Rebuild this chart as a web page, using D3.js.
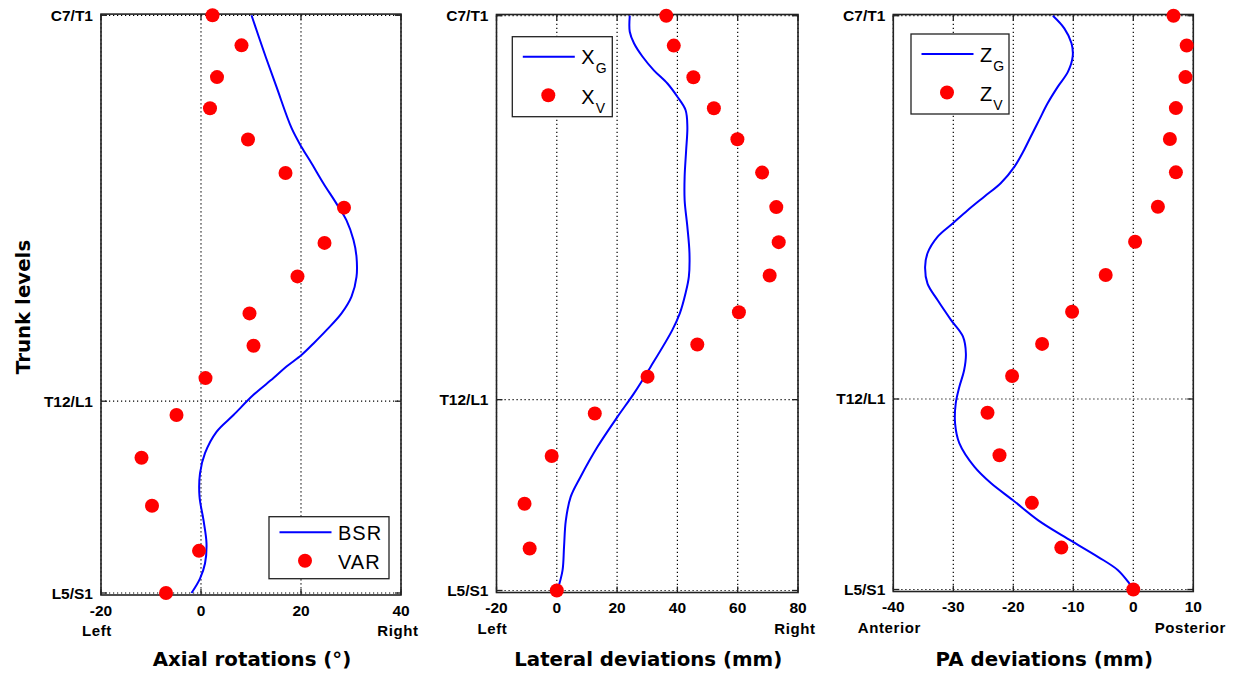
<!DOCTYPE html>
<html><head><meta charset="utf-8">
<script src="https://cdn.jsdelivr.net/npm/d3@7"></script>
<style>body{margin:0;background:#fff}svg{display:block}</style>
</head><body>
<svg id="c" width="1240" height="677"></svg>
<script>
// ---------- DATA ----------
const levelTickLabels = ["C7/T1", "T12/L1", "L5/S1"];
const levelTickHeights = [0, 66.8, 100];           // normalized trunk height (0 = C7/T1, 100 = L5/S1)
const levelHeights = [0, 5.2, 10.7, 16.1, 21.5, 27.3, 33.3, 39.4, 45.2, 51.6, 57.2, 62.8, 69.2, 76.6, 84.9, 92.7, 100];

// Panel 1 : axial rotations (deg)
const varValues = [2.3, 8.1, 3.2, 1.8, 9.4, 16.9, 28.6, 24.7, 19.3, 9.7, 10.5, 0.9, -4.9, -11.9, -9.8, -0.4, -7.0];
const bsrHeights = [0, 6.1, 12.4, 19.5, 22.8, 25.6, 29.1, 32.6, 35.5, 38.9, 41.8, 45.3, 48.7, 51.6, 54.5, 56.8, 58.8, 60.8, 62.8, 65.7, 69.2, 72.1, 75.8, 79.3, 83.3, 87.4, 91.4, 94.9, 97.5, 100];
const bsrValues = [10.1, 12.5, 15.1, 18.1, 20.1, 22.1, 24.5, 27.1, 29.1, 30.5, 31.1, 31.1, 30.1, 28.1, 25.1, 22.5, 20.1, 17.1, 14.5, 10.5, 6.5, 3.1, 0.8, -0.2, -0.3, 0.5, 1.1, 0.8, -0.2, -1.9];
const axialTicks = [-20, 0, 20, 40];

// Panel 2 : lateral deviations (mm)
const xvValues = [36.3, 38.8, 45.3, 52.1, 59.9, 68.1, 72.8, 73.6, 70.6, 60.4, 46.6, 30.1, 12.6, -1.7, -10.7, -9.0, 0];
const xgHeights = [0, 2.8, 4.8, 7.1, 9.5, 11.8, 14.1, 16.4, 19.3, 23.4, 28.0, 32.1, 36.7, 41.3, 45.4, 48.3, 51.8, 54.7, 61.1, 65.7, 69.8, 75.0, 80.2, 83.7, 87.8, 92.4, 96.5, 100];
const xgValues = [24.2, 24.2, 25.6, 28.4, 32.2, 36.7, 40.0, 42.7, 43.3, 42.9, 42.4, 42.4, 43.3, 44.0, 43.8, 42.7, 40.8, 38.3, 31.1, 25.6, 20.1, 13.5, 7.9, 4.6, 3.0, 2.4, 1.9, 0.2];
const lateralTicks = [-20, 0, 20, 40, 60, 80];

// Panel 3 : PA deviations (mm)
const zvValues = [6.7, 8.9, 8.7, 7.1, 6.1, 7.1, 4.1, 0.3, -4.6, -10.2, -15.2, -20.2, -24.3, -22.3, -16.9, -12.0, 0];
const zgHeights = [0, 2.2, 4.8, 7.1, 9.8, 12.4, 15.3, 18.2, 21.1, 23.4, 26.3, 29.2, 31.5, 33.9, 36.2, 38.5, 41.4, 43.8, 46.7, 49.6, 53.0, 55.9, 58.9, 61.8, 64.7, 67.6, 71.1, 74.5, 78.6, 81.5, 84.4, 87.9, 90.8, 94.3, 96.6, 98.9, 100];
const zgValues = [-13.4, -11.5, -10.3, -10.1, -10.9, -12.6, -14.3, -15.7, -17.1, -18.2, -19.8, -22.1, -24.8, -27.6, -30.1, -32.6, -34.3, -34.7, -34.3, -32.6, -30.4, -28.4, -27.9, -28.2, -29.0, -29.6, -29.7, -29.0, -26.5, -23.7, -20.1, -15.9, -11.5, -5.9, -2.6, -0.7, 0];
const paTicks = [-40, -30, -20, -10, 0, 10];

// ---------- DRAW ----------
const svg = d3.select("#c");
const tickFont = "'Liberation Sans', Arial, sans-serif";
const titleFont = "'DejaVu Sans', sans-serif";

const panels = [
  { x0: 101, x1: 401, y0: 15.3, y1: 593, domain: [-20, 40], ticks: axialTicks,
    vals: varValues, cH: bsrHeights, cV: bsrValues,
    title: "Axial rotations (°)", lo: "Left", hi: "Right",
    legend: { x: 269, y: 516.7, w: 120, h: 62, line: "BSR", dot: "VAR", sub1: null, sub2: null } },
  { x0: 496.5, x1: 798, y0: 15.7, y1: 590.5, domain: [-20, 80], ticks: lateralTicks,
    vals: xvValues, cH: xgHeights, cV: xgValues,
    title: "Lateral deviations (mm)", lo: "Left", hi: "Right",
    legend: { x: 512.3, y: 36.7, w: 100, h: 80, line: "X", dot: "X", sub1: "G", sub2: "V" } },
  { x0: 893.3, x1: 1193.3, y0: 15.7, y1: 589.5, domain: [-40, 10], ticks: paTicks,
    vals: zvValues, cH: zgHeights, cV: zgValues,
    title: "PA deviations (mm)", lo: "Anterior", hi: "Posterior",
    legend: { x: 911, y: 34, w: 98, h: 80, line: "Z", dot: "Z", sub1: "G", sub2: "V" } }
];

panels.forEach((p, i) => {
  const x = d3.scaleLinear().domain(p.domain).range([p.x0, p.x1]);
  const y = d3.scaleLinear().domain([0, 100]).range([p.y0, p.y1]);
  const g = svg.append("g");

  // grid (dotted)
  g.selectAll(".vg").data(p.ticks).join("line")
    .attr("x1", d => x(d)).attr("x2", d => x(d))
    .attr("y1", y(0)).attr("y2", y(100))
    .attr("stroke", "#000").attr("stroke-width", 1.2).attr("stroke-dasharray", "1.2,2.8");
  g.selectAll(".hg").data(levelTickHeights).join("line")
    .attr("x1", p.x0).attr("x2", p.x1)
    .attr("y1", d => y(d)).attr("y2", d => y(d))
    .attr("stroke", "#000").attr("stroke-width", 1.2).attr("stroke-dasharray", "1.2,2.8");

  // frame
  const fy0 = y(0) - 1.2, fy1 = y(100) + 2;
  g.append("rect").attr("x", p.x0).attr("y", fy0).attr("width", p.x1 - p.x0).attr("height", fy1 - fy0)
    .attr("fill", "none").attr("stroke", "#222").attr("stroke-width", 1.6);

  // ticks inward
  const tl = 6;
  p.ticks.forEach(t => {
    g.append("line").attr("x1", x(t)).attr("x2", x(t)).attr("y1", fy1).attr("y2", fy1 - tl).attr("stroke", "#222").attr("stroke-width", 1.3);
    g.append("line").attr("x1", x(t)).attr("x2", x(t)).attr("y1", fy0).attr("y2", fy0 + tl).attr("stroke", "#222").attr("stroke-width", 1.3);
  });
  levelTickHeights.forEach(h => {
    g.append("line").attr("x1", p.x0).attr("x2", p.x0 + tl).attr("y1", y(h)).attr("y2", y(h)).attr("stroke", "#222").attr("stroke-width", 1.3);
    g.append("line").attr("x1", p.x1).attr("x2", p.x1 - tl).attr("y1", y(h)).attr("y2", y(h)).attr("stroke", "#222").attr("stroke-width", 1.3);
  });

  // x tick labels
  g.selectAll(".xt").data(p.ticks).join("text")
    .attr("x", d => x(d)).attr("y", p.y1 + 22.5)
    .attr("text-anchor", "middle").attr("font-family", tickFont).attr("font-weight", "bold").attr("font-size", 15.5)
    .text(d => d);
  // y tick labels
  g.selectAll(".yt").data(levelTickHeights).join("text")
    .attr("x", p.x0 - 8).attr("y", d => y(d) + 5.5)
    .attr("text-anchor", "end").attr("font-family", tickFont).attr("font-weight", "bold").attr("font-size", 15.5)
    .text((d, j) => levelTickLabels[j]);

  // direction labels
  g.append("text").attr("x", p.x0 - 4).attr("y", p.y1 + 43).attr("text-anchor", "middle")
    .attr("font-family", tickFont).attr("font-weight", "bold").attr("font-size", 15).attr("letter-spacing", 0.6).text(p.lo);
  g.append("text").attr("x", p.x1 - 3).attr("y", p.y1 + 43).attr("text-anchor", "middle")
    .attr("font-family", tickFont).attr("font-weight", "bold").attr("font-size", 15).attr("letter-spacing", 0.6).text(p.hi);

  // title
  g.append("text").attr("x", (p.x0 + p.x1) / 2 + 1).attr("y", 665.5).attr("text-anchor", "middle")
    .attr("font-family", titleFont).attr("font-weight", "bold").attr("font-size", 19.8).text(p.title);

  // curve
  const line = d3.line().x(d => x(d[1])).y(d => y(d[0])).curve(d3.curveCatmullRom.alpha(0.5));
  g.append("path").datum(p.cH.map((h, j) => [h, p.cV[j]]))
    .attr("d", line).attr("fill", "none").attr("stroke", "#0000ff").attr("stroke-width", 2);

  // points
  g.selectAll(".pt").data(p.vals).join("circle")
    .attr("cx", d => x(d)).attr("cy", (d, j) => y(levelHeights[j])).attr("r", 7)
    .attr("fill", "#ff0000");

  // legend
  const L = p.legend;
  const lg = g.append("g").attr("transform", `translate(${L.x},${L.y})`);
  lg.append("rect").attr("width", L.w).attr("height", L.h).attr("fill", "#fff").attr("stroke", "#222").attr("stroke-width", 1.3);
  const r1 = L.sub1 ? 20 : 15.6, r2 = L.sub1 ? 58.5 : 44;
  lg.append("line").attr("x1", 10.5).attr("x2", 62.5).attr("y1", r1).attr("y2", r1).attr("stroke", "#0000ff").attr("stroke-width", 2);
  lg.append("circle").attr("cx", 36).attr("cy", r2).attr("r", 7).attr("fill", "#ff0000");
  const t1 = lg.append("text").attr("x", 69).attr("y", r1 + 7.5).attr("font-family", tickFont).attr("font-size", 20).attr("letter-spacing", 1);
  t1.append("tspan").text(L.line);
  if (L.sub1) t1.append("tspan").attr("font-size", 14).attr("dy", 9).text(L.sub1);
  const t2 = lg.append("text").attr("x", 69).attr("y", r2 + 8.5).attr("font-family", tickFont).attr("font-size", 20).attr("letter-spacing", 1);
  t2.append("tspan").text(L.dot);
  if (L.sub2) t2.append("tspan").attr("font-size", 14).attr("dy", 9).text(L.sub2);
});

// y-axis title
svg.append("text").attr("transform", "translate(30,307) rotate(-90)").attr("text-anchor", "middle")
  .attr("font-family", titleFont).attr("font-weight", "bold").attr("font-size", 19.8).text("Trunk levels");
</script>
</body></html>
